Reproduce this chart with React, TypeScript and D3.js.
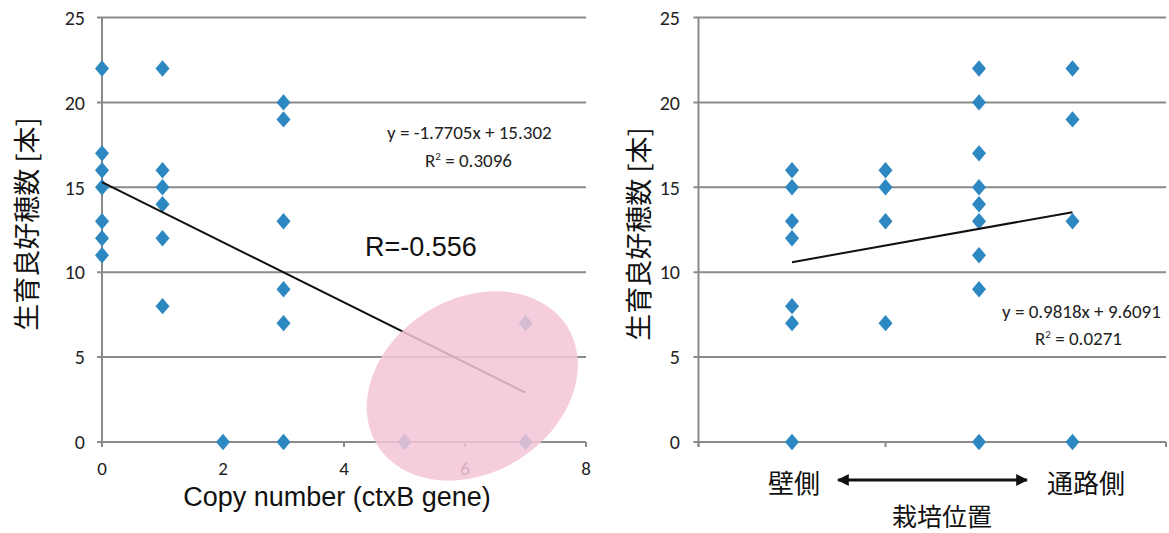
import React from "react";
import * as d3 from "d3";

// ---- Left chart data (copy number vs. count) ----
const leftX = [0, 0, 0, 0, 0, 0, 0, 1, 1, 1, 1, 1, 1, 2, 3, 3, 3, 3, 3, 3, 5, 7, 7];
const leftY = [22, 17, 16, 15, 13, 12, 11, 22, 16, 15, 14, 12, 8, 0, 20, 19, 13, 9, 7, 0, 0, 7, 0];
const leftSlope = -1.7705;
const leftIntercept = 15.302;
const leftTrendRange = [0, 7];
const leftXTicks = [0, 2, 4, 6, 8];
const leftEquation = "y = -1.7705x + 15.302";
const leftR2 = "0.3096";
const leftRLabel = "R=-0.556";
const highlightCenter = [6.12, 3.3];

// ---- Right chart data (position vs. count) ----
const rightX = [1, 1, 1, 1, 1, 1, 1, 2, 2, 2, 2, 3, 3, 3, 3, 3, 3, 3, 3, 3, 4, 4, 4, 4];
const rightY = [16, 15, 13, 12, 8, 7, 0, 16, 15, 13, 7, 22, 20, 17, 15, 14, 13, 11, 9, 0, 22, 19, 13, 0];
const rightSlope = 0.9818;
const rightIntercept = 9.6091;
const rightTrendRange = [1, 4];
const rightXTicks = [0, 2, 4, 5];
const rightEquation = "y = 0.9818x + 9.6091";
const rightR2 = "0.0271";

const yTicks = [0, 5, 10, 15, 20, 25];
const yTitle = "生育良好穂数 [本]";
const leftXTitle = "Copy number (ctxB gene)";
const rightLeftLabel = "壁側";
const rightRightLabel = "通路側";
const rightXTitle = "栽培位置";

const BLUE = "#2d88c2";
const GRID = "#8a8a8a";
const NUM_FONT = "Carlito, 'Liberation Sans Narrow', 'DejaVu Sans Condensed', 'Open Sans', sans-serif";
const CJK_FONT = "'Noto Sans CJK JP', 'Noto Sans CJK SC', sans-serif";
const ARIAL = "'Liberation Sans', Arial, sans-serif";

const diamond = (w: number, h: number) => `M0,${-h}L${w},0L0,${h}L${-w},0Z`;

type PanelProps = {
  xs: number[];
  ys: number[];
  xDomain: [number, number];
  xRange: [number, number];
  xTicks: number[];
  showXTickLabels: boolean;
  slope: number;
  intercept: number;
  trend: number[];
  tickLabelRight: number;
};

const yScale = d3.scaleLinear().domain([0, 25]).range([442, 17.5]);

function Panel(p: PanelProps) {
  const x = d3.scaleLinear().domain(p.xDomain).range(p.xRange);
  const line = d3
    .line<number>()
    .x((d) => x(d))
    .y((d) => yScale(p.slope * d + p.intercept));
  const [x0, x1] = p.xRange;
  return (
    <g>
      {yTicks.map((t) => (
        <g key={t}>
          <line x1={x0 - 5} x2={x1} y1={yScale(t)} y2={yScale(t)} stroke={GRID} strokeWidth={2} />
          <text
            x={p.tickLabelRight}
            y={yScale(t)}
            dy="0.36em"
            textAnchor="end"
            fontFamily={NUM_FONT}
            fontSize={20}
            fill="#222"
          >
            {t}
          </text>
        </g>
      ))}
      <line x1={x0} x2={x0} y1={yScale(25)} y2={yScale(0) + 5} stroke={GRID} strokeWidth={2} />
      {p.xTicks.map((t) => (
        <g key={t}>
          <line x1={x(t)} x2={x(t)} y1={yScale(0)} y2={yScale(0) + 5} stroke={GRID} strokeWidth={2} />
          {p.showXTickLabels && (
            <text x={x(t)} y={475} textAnchor="middle" fontFamily={NUM_FONT} fontSize={19} fill="#222">
              {t}
            </text>
          )}
        </g>
      ))}
      {p.xs.map((xv, i) => (
        <path key={i} d={diamond(7, 8.2)} transform={`translate(${x(xv)},${yScale(p.ys[i])})`} fill={BLUE} />
      ))}
      <path d={line(p.trend) || ""} stroke="#111" strokeWidth={2} fill="none" />
    </g>
  );
}

export default function App() {
  const xl = d3.scaleLinear().domain([0, 8]).range([102, 586]);
  return (
    <svg
      width={1169}
      height={533}
      style={{ position: "absolute", left: 0, top: 0, background: "#fff" }}
    >
      <rect width={1169} height={533} fill="#fff" />
      {/* Left chart */}
      <Panel
        xs={leftX}
        ys={leftY}
        xDomain={[0, 8]}
        xRange={[102, 586]}
        xTicks={leftXTicks}
        showXTickLabels={true}
        slope={leftSlope}
        intercept={leftIntercept}
        trend={leftTrendRange}
        tickLabelRight={85}
      />
      <ellipse
        cx={0}
        cy={0}
        rx={112}
        ry={87}
        transform={`translate(${xl(highlightCenter[0])},${yScale(highlightCenter[1])}) rotate(-32)`}
        fill="rgb(243,196,214)"
        fillOpacity={0.85}
      />
      <text x={387} y={139} fontFamily={NUM_FONT} fontSize={19} fill="#222">
        {leftEquation}
      </text>
      <text x={425} y={167} fontFamily={NUM_FONT} fontSize={19} fill="#222">
        R<tspan dy={-7} fontSize={11}>2</tspan>
        <tspan dy={7}> = {leftR2}</tspan>
      </text>
      <text x={365} y={256} fontFamily={ARIAL} fontSize={27} fill="#111">
        {leftRLabel}
      </text>
      <text x={337} y={506} textAnchor="middle" fontFamily={ARIAL} fontSize={27} fill="#111">
        {leftXTitle}
      </text>
      <text
        transform="translate(25,224) rotate(-90)"
        textAnchor="middle"
        dominantBaseline="central"
        fontFamily={CJK_FONT}
        fontSize={27}
        fill="#111"
      >
        {yTitle}
      </text>

      {/* Right chart */}
      <Panel
        xs={rightX}
        ys={rightY}
        xDomain={[0, 5]}
        xRange={[698.5, 1166]}
        xTicks={rightXTicks}
        showXTickLabels={false}
        slope={rightSlope}
        intercept={rightIntercept}
        trend={rightTrendRange}
        tickLabelRight={680}
      />
      <text x={1002} y={318} fontFamily={NUM_FONT} fontSize={19} fill="#222">
        {rightEquation}
      </text>
      <text x={1035} y={345} fontFamily={NUM_FONT} fontSize={19} fill="#222">
        R<tspan dy={-7} fontSize={11}>2</tspan>
        <tspan dy={7}> = {rightR2}</tspan>
      </text>
      <text
        transform="translate(637,234) rotate(-90)"
        textAnchor="middle"
        dominantBaseline="central"
        fontFamily={CJK_FONT}
        fontSize={27}
        fill="#111"
      >
        {yTitle}
      </text>
      <text x={794} y={481} textAnchor="middle" dominantBaseline="central" fontFamily={CJK_FONT} fontSize={26} fill="#111">
        {rightLeftLabel}
      </text>
      <text x={1086} y={481} textAnchor="middle" dominantBaseline="central" fontFamily={CJK_FONT} fontSize={26} fill="#111">
        {rightRightLabel}
      </text>
      <defs>
        <marker id="ah" viewBox="0 0 10 10" refX={9} refY={5} markerWidth={4} markerHeight={4} orient="auto-start-reverse">
          <path d="M0,0L10,5L0,10Z" fill="#111" />
        </marker>
      </defs>
      <line x1={838} x2={1027} y1={480} y2={480} stroke="#111" strokeWidth={3} markerStart="url(#ah)" markerEnd="url(#ah)" />
      <text x={942} y={515} textAnchor="middle" dominantBaseline="central" fontFamily={CJK_FONT} fontSize={25} fill="#111">
        {rightXTitle}
      </text>
    </svg>
  );
}
